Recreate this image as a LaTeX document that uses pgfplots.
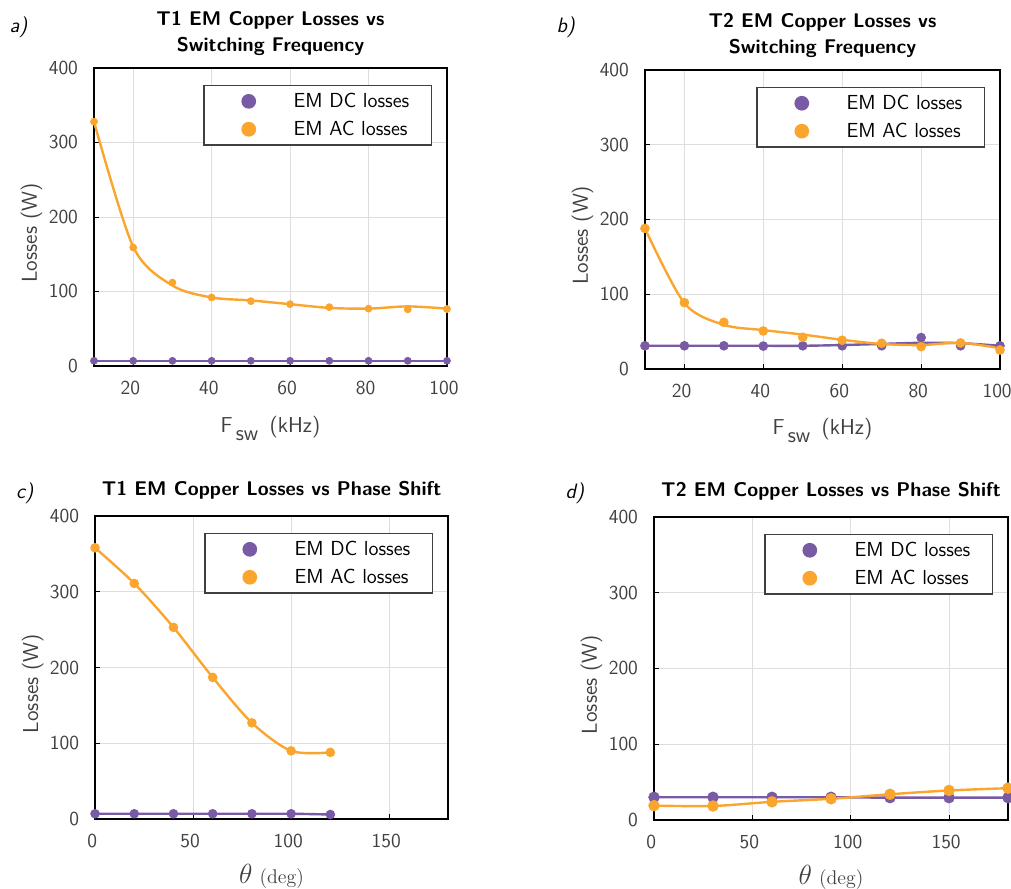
\documentclass[border=0pt]{standalone}
\usepackage{pgfplots}
\pgfplotsset{compat=1.18}
\renewcommand{\familydefault}{\sfdefault}
\definecolor{dcp}{RGB}{120,90,165}
\definecolor{acp}{RGB}{250,165,45}
\definecolor{tkg}{RGB}{64,64,64}
\definecolor{gridg}{RGB}{222,222,222}
\pgfplotsset{
 mystyle/.style={
  scale only axis,
  axis line style={black, line width=1pt},
  grid=major, major grid style={gridg, line width=0.6pt},
  tick align=inside, xtick pos=bottom, ytick pos=left,
  major tick length=3pt, tick style={black, line width=0.6pt},
  ymin=0, ymax=400, ytick={0,100,200,300,400},
  ticklabel style={font=\fontsize{12.4}{14}\selectfont, text=tkg},
  /pgf/number format/assume math mode=true,
  xticklabel style={yshift=-6pt, xshift=-1.8pt},
  yticklabel style={xshift=-6.5pt},
  ylabel={Losses (W)},
  ylabel style={at={(axis description cs:0,0.5)}, anchor=center, xshift=-10pt, yshift=39pt, font=\fontsize{13.5}{15}\selectfont, text=tkg},
  xlabel style={at={(axis description cs:0.5,0)}, anchor=base, yshift=-41.25pt, font=\fontsize{13.5}{15}\selectfont, text=tkg},
  title style={font=\bfseries\fontsize{12.4}{16.25}\selectfont, align=center, at={(axis description cs:0.5,1)}, anchor=south},
  legend style={at={(axis description cs:1,1)}, anchor=north east, xshift=-9.4pt, yshift=-10.6pt, draw=black!75, line width=0.8pt, font=\fontsize{12.7}{14}\selectfont, inner xsep=13.75pt, inner ysep=4.6pt, row sep=7pt, nodes={inner sep=0pt}},
  legend cell align=left,
  legend image code/.code={\path[draw=none,fill=none] (0pt,0pt) -- (42.25pt,0pt); \fill[##1, draw=none] (14.25pt,0pt) circle (4.6pt);},
 },
 dcline/.style={dcp, line width=1.5pt, smooth, mark=*, mark size=#1, mark options={solid, fill=dcp, draw=dcp}},
 acline/.style={acp, line width=1.5pt, smooth, mark=*, mark size=#1, mark options={solid, fill=acp, draw=acp}},
 fitline/.style={#1, line width=1.5pt, smooth, no marks, forget plot},
 pts/.style n args={2}{#1, only marks, mark=*, mark size=#2, mark options={solid, fill=#1, draw=#1}},
}
\begin{document}
\begin{tikzpicture}
\useasboundingbox (0pt,0pt) rectangle (631.875pt,555pt);
% a)
\begin{axis}[mystyle, at={(58.75pt,326.25pt)}, anchor=south west, width=220.6pt, height=186.25pt,
  xmin=10, xmax=100, xtick={20,40,60,80,100},
  title={T1 EM Copper Losses vs\\Switching Frequency}, title style={yshift=-2pt},
  xlabel={F\hspace{2pt}\raisebox{-5pt}{sw}\hspace{7pt}(kHz)}]
\addplot[fitline=dcp] coordinates {(10,7) (20,7) (30,7) (40,7) (50,7) (60,7) (70,7) (80,7) (90,7) (100,7)};
\addplot[pts={dcp}{2.2pt}] coordinates {(10,7) (20,7) (30,7) (40,7) (50,7) (60,7) (70,7) (80,7) (90,7) (100,7)};
\addlegendentry{EM DC losses}
\addplot[fitline=acp] coordinates {(10,328) (20,160) (30,108) (40,92) (50,88) (60,83) (70,78) (80,77) (90,80) (100,77)};
\addplot[pts={acp}{2.2pt}] coordinates {(10,328) (20,159) (30,112) (40,92) (50,87) (60,83) (70,79) (80,77) (90,76) (100,76.5)};
\addlegendentry{EM AC losses}
\end{axis}
% b)
\begin{axis}[mystyle, at={(403.1pt,324.4pt)}, anchor=south west, width=221.9pt, height=186.9pt,
  xmin=10, xmax=100, xtick={20,40,60,80,100},
  title={T2 EM Copper Losses vs\\Switching Frequency}, title style={yshift=-2pt},
  xlabel={F\hspace{2pt}\raisebox{-5pt}{sw}\hspace{7pt}(kHz)}]
\addplot[fitline=dcp] coordinates {(10,31) (20,31) (30,31) (40,31) (50,31) (60,32) (70,33.5) (80,35) (90,34.5) (100,31)};
\addplot[pts={dcp}{2.8pt}] coordinates {(10,31) (20,31) (30,31) (40,30.6) (50,31) (60,31) (70,31) (80,42) (90,31) (100,31)};
\addlegendentry{EM DC losses}
\addplot[fitline=acp] coordinates {(10,188) (20,88) (30,59) (40,52) (50,46) (60,39) (70,33.4) (80,32) (90,35) (100,27.7)};
\addplot[pts={acp}{2.8pt}] coordinates {(10,188) (20,88.7) (30,62.4) (40,50.8) (50,42.4) (60,38.4) (70,34.4) (80,29.9) (90,34.8) (100,25.4)};
\addlegendentry{EM AC losses}
\end{axis}
% c)
\begin{axis}[mystyle, at={(59.4pt,43.1pt)}, anchor=south west, width=220.6pt, height=189.4pt,
  xmin=0, xmax=180, xtick={0,50,100,150},
  title={T1 EM Copper Losses vs Phase Shift}, title style={yshift=1pt},
  xlabel style={yshift=1.2pt},
  xlabel={{\fontsize{17}{18}\selectfont$\theta$}\ {\rmfamily\fontsize{12.4}{14}\selectfont(deg)}}]
\addplot[dcline=2.2pt] coordinates {(0,7) (20,7) (40,7) (60,7) (80,7) (100,7) (120,6)};
\addlegendentry{EM DC losses}
\addplot[acline=2.2pt] coordinates {(0,358) (20,311) (40,253) (60,187) (80,127) (100,90) (120,88)};
\addlegendentry{EM AC losses}
\end{axis}
% d)
\begin{axis}[mystyle, at={(408.75pt,42.5pt)}, anchor=south west, width=221.25pt, height=189.4pt,
  xmin=0, xmax=180, xtick={0,50,100,150},
  title={T2 EM Copper Losses vs Phase Shift}, title style={yshift=1pt},
  xlabel style={yshift=1.2pt},
  xlabel={{\fontsize{17}{18}\selectfont$\theta$}\ {\rmfamily\fontsize{12.4}{14}\selectfont(deg)}}]
\addplot[dcline=2.8pt] coordinates {(0,30) (30,30) (60,30) (90,30) (120,29.5) (150,29.5) (180,29.5)};
\addlegendentry{EM DC losses}
\addplot[acline=2.8pt] coordinates {(0,19) (30,18.5) (60,24) (90,28) (120,34) (150,39) (180,42)};
\addlegendentry{EM AC losses}
\end{axis}
\node[anchor=base west, font=\itshape\fontsize{13}{15}\selectfont] at (2.5pt,534.4pt) {a)};
\node[anchor=base west, font=\itshape\fontsize{13}{15}\selectfont] at (344.3pt,534.4pt) {b)};
\node[anchor=base west, font=\itshape\fontsize{13}{15}\selectfont] at (6.6pt,243.75pt) {c)};
\node[anchor=base west, font=\itshape\fontsize{13}{15}\selectfont] at (350pt,243.75pt) {d)};
\end{tikzpicture}
\end{document}
